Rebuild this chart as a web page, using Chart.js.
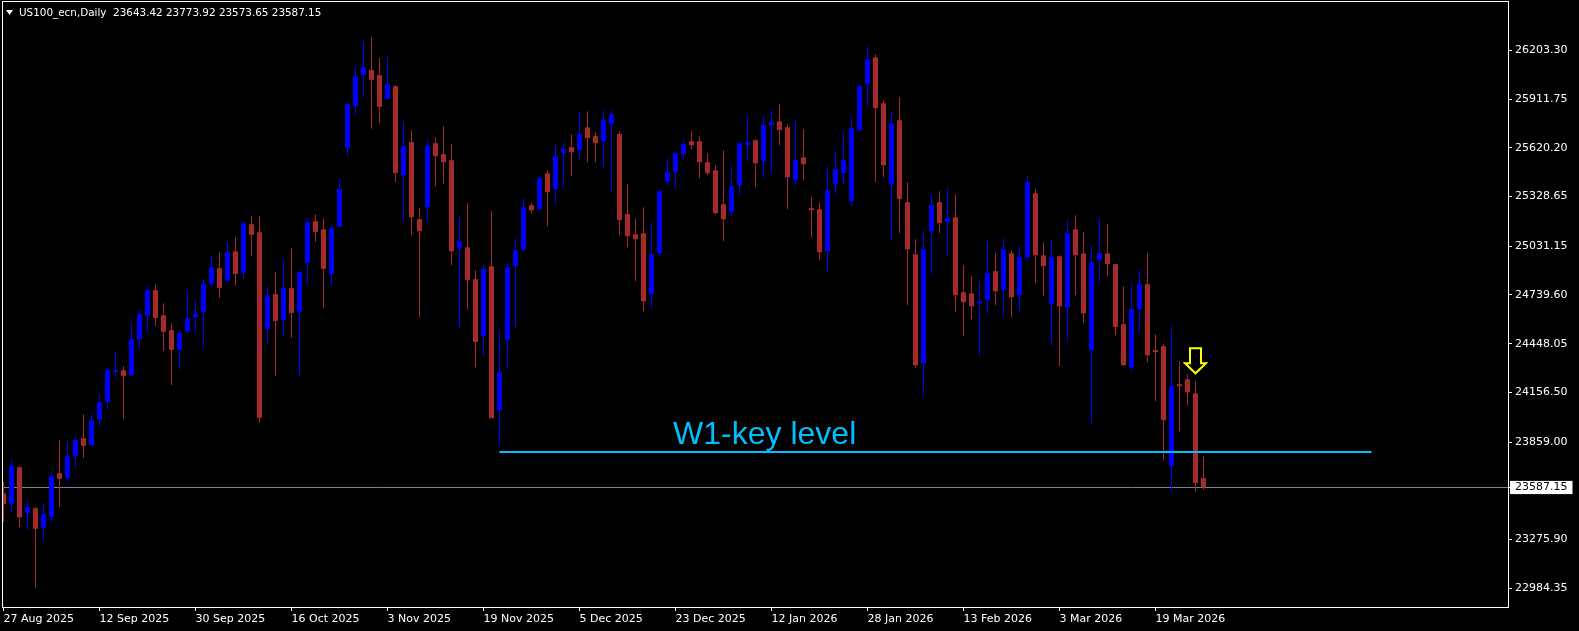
<!DOCTYPE html>
<html>
<head>
<meta charset="utf-8">
<title>US100_ecn,Daily</title>
<script src="https://cdn.jsdelivr.net/npm/chart.js@4/dist/chart.umd.min.js"></script>
<style>
  html, body { margin: 0; padding: 0; background: #000; }
  canvas { display: block; background: #000; }
</style>
</head>
<body>
<canvas id="chart" width="1579" height="631"></canvas>
<script>
// daily candles 27 Aug 2025 .. 27 Mar 2026
const open = [23553,23489,23709,23433,23463,23346,23411,23673,23645,23776,
  23882,23840,23996,24100,24279,24289,24259,24475,24614,24768,
  24618,24529,24411,24519,24606,24638,24806,24900,24824,25001,
  24872,25163,25115,24537,24744,24590,24780,24638,24932,25181,
  25133,24866,25147,25620,25871,26057,26085,26055,25913,25989,
  25456,25654,25193,25265,25648,25582,25546,25019,25025,24834,
  24493,24912,24050,24469,24912,25013,25277,25253,25468,25372,
  25588,25624,25606,25743,25690,25660,25761,25702,25223,25103,
  25109,24744,24989,25420,25474,25582,25660,25660,25534,25486,
  25283,25235,25396,25636,25666,25540,25756,25779,25744,25426,
  25564,25259,25253,25001,25402,25468,25301,25726,26001,26162,
  25887,25402,25785,25295,24983,24331,25121,25295,25175,25205,
  24756,24750,24690,24708,24882,24768,24989,24738,24965,25349,
  24977,24684,24971,24666,25133,24989,24409,24948,24989,24924,
  24565,24307,24654,24804,24409,24433,23717,24205,24235,24151,
  23643.42];

const high = [23621,23756,23715,23517,23470,23493,23679,23870,23864,23894,
  24026,24032,24146,24307,24397,24313,24576,24654,24798,24804,
  24690,24570,24529,24768,24708,24834,24978,24995,25061,25085,
  25181,25211,25211,24792,24876,24953,25019,24894,25205,25223,
  25199,25157,25432,25893,26109,26258,26282,26157,26163,25995,
  25779,25726,25259,25672,25684,25750,25642,25211,25289,24888,
  24924,25241,24529,24936,25079,25325,25289,25450,25486,25636,
  25654,25702,25839,25839,25714,25851,25845,25720,25402,25199,
  25265,25175,25366,25564,25600,25672,25720,25690,25588,25516,
  25606,25516,25654,25815,25672,25809,25851,25881,25761,25791,
  25731,25325,25295,25510,25600,25714,25803,26001,26228,26180,
  25905,25839,25923,25414,25073,25127,25343,25360,25384,25343,
  24918,24852,24822,25061,24989,25079,25007,25031,25450,25372,
  25055,25067,24977,25187,25217,25115,25031,25199,25163,24924,
  24792,24810,24894,24989,24505,24445,24552,24343,24265,24223,
  23773.92];

const low = [23381,23441,23351,23333,22986,23262,23375,23471,23621,23705,
  23764,23836,23950,24064,24249,23998,24253,24415,24517,24554,
  24405,24201,24295,24513,24513,24427,24788,24722,24818,24794,
  24836,24973,23974,24441,24255,24495,24483,24249,24806,25057,
  24662,24794,25147,25572,25817,25925,25734,25770,25907,25416,
  25175,25097,24606,25175,25390,25402,24918,24540,24654,24307,
  24373,24002,23834,24301,24540,25001,25229,25247,25151,25283,
  25384,25450,25546,25534,25534,25504,25360,25097,25025,24822,
  24642,24660,24971,25396,25378,25552,25612,25438,25456,25223,
  25061,25211,25336,25540,25384,25438,25462,25636,25253,25396,
  25426,25085,24947,24882,25343,25402,25271,25714,25875,25414,
  25444,25067,25109,24678,24301,24139,24864,25109,24971,24636,
  24493,24594,24373,24630,24678,24612,24606,24642,24941,24810,
  24732,24439,24313,24463,24738,24570,23972,24810,24852,24499,
  24319,24283,24511,24337,24104,23751,23561,23924,24080,23561,
  23573.65];

const close = [23489,23715,23409,23469,23340,23427,23655,23639,23774,23870,
  23836,23990,24098,24289,24289,24255,24475,24624,24768,24602,
  24519,24411,24511,24600,24630,24804,24906,24782,24995,24866,
  25169,25099,24004,24736,24584,24780,24632,24876,25175,25117,
  24896,25139,25373,25881,26049,26103,26027,25865,26001,25470,
  25630,25205,25121,25630,25570,25534,25001,25061,24828,24457,
  24894,24002,24277,24906,25007,25265,25247,25438,25355,25570,
  25612,25594,25702,25678,25648,25785,25821,25187,25091,25073,
  24702,24983,25360,25474,25588,25642,25636,25534,25468,25229,
  25193,25390,25648,25654,25528,25755,25773,25726,25444,25546,
  25522,25247,24995,25366,25492,25546,25738,25989,26150,25857,
  25516,25767,25313,25013,24319,25013,25277,25169,25199,24738,
  24696,24672,24702,24870,24762,25013,24726,24965,25414,24977,
  24912,24965,24672,25109,24977,24630,24936,24989,24924,24547,
  24319,24654,24804,24379,24397,23990,24193,24193,24157,23613,
  23587.15];

// bottom axis: a date label every 12 bars
const tickIdx = [0, 12, 24, 36, 48, 60, 72, 84, 96, 108, 120, 132, 144];
const tickLabels = ['27 Aug 2025', '12 Sep 2025', '30 Sep 2025', '16 Oct 2025', '3 Nov 2025',
  '19 Nov 2025', '5 Dec 2025', '23 Dec 2025', '12 Jan 2026', '28 Jan 2026',
  '13 Feb 2026', '3 Mar 2026', '19 Mar 2026'];

// right axis labels as printed by the terminal
const priceTicks = [26203.30, 25911.75, 25620.20, 25328.65, 25031.15, 24739.60,
  24448.05, 24156.50, 23859.00, 23587.15, 23275.90, 22984.35];

const symbol = 'US100_ecn,Daily';

// weekly key level drawn on the chart
const keyLevel = 23800;
const keyFrom = 62;
const keyTo = 171;
const keyText = 'W1-key level';
const keyTextAt = [83.7, 23847];
const arrowAt = [149, 24420];

const bull = '#0000ff';
const bear = '#a52a2a';
const keyColor = '#00bfff';

const n = close.length;
const last = close[n - 1];
const xMin = -0.1875, xMax = 188.0625;
const yMin = 22871.9, yMax = 26492.9;

const idx = close.map((_, i) => i);
const colors = idx.map(i => close[i] >= open[i] ? bull : bear);

const overlay = {
  id: 'overlay',
  afterDatasetsDraw(chart) {
    const {ctx, chartArea: a, scales: {x, y}} = chart;
    ctx.save();
    // frame around the plot
    ctx.strokeStyle = '#fff';
    ctx.lineWidth = 1;
    ctx.strokeRect(a.left + 0.5, a.top - 0.5, a.right - a.left, a.bottom - a.top + 1);

    // key level caption
    ctx.fillStyle = keyColor;
    ctx.font = '32px "Liberation Sans", Arial, sans-serif';
    ctx.textBaseline = 'alphabetic';
    ctx.textAlign = 'left';
    ctx.fillText(keyText, x.getPixelForValue(keyTextAt[0]), y.getPixelForValue(keyTextAt[1]));

    // hollow down arrow
    const ax = x.getPixelForValue(arrowAt[0]);
    const ay = y.getPixelForValue(arrowAt[1]);
    ctx.beginPath();
    ctx.moveTo(ax - 5.5, ay);
    ctx.lineTo(ax + 5.5, ay);
    ctx.lineTo(ax + 5.5, ay + 15);
    ctx.lineTo(ax + 10.5, ay + 15);
    ctx.lineTo(ax, ay + 25);
    ctx.lineTo(ax - 10.5, ay + 15);
    ctx.lineTo(ax - 5.5, ay + 15);
    ctx.closePath();
    ctx.strokeStyle = '#ffff00';
    ctx.lineWidth = 2;
    ctx.stroke();

    // symbol line, top left
    ctx.fillStyle = '#fff';
    ctx.beginPath();
    ctx.moveTo(6, 10);
    ctx.lineTo(13, 10);
    ctx.lineTo(9.5, 15);
    ctx.closePath();
    ctx.fill();
    ctx.font = '10.4px "DejaVu Sans", sans-serif';
    ctx.textBaseline = 'middle';
    const ohlc = [open[n - 1], high[n - 1], low[n - 1], close[n - 1]].map(v => v.toFixed(2)).join(' ');
    ctx.fillText(symbol + '  ' + ohlc, 19, 13);
    ctx.restore();
  }
};

Chart.defaults.font.family = '"DejaVu Sans", sans-serif';
Chart.defaults.font.size = 11;
Chart.defaults.color = '#fff';

const ctx = document.getElementById('chart').getContext('2d');
const chart = new Chart(ctx, {
  type: 'bar',
  data: {
    datasets: [
      {
        type: 'line',
        data: [{x: keyFrom, y: keyLevel}, {x: keyTo, y: keyLevel}],
        borderColor: keyColor,
        borderWidth: 2,
        pointRadius: 0
      },
      {
        data: idx.map(i => ({x: i, y: [open[i], close[i]]})),
        backgroundColor: colors,
        barThickness: 5,
        minBarLength: 1,
        grouped: false,
        inflateAmount: 0,
        borderWidth: 0,
        clip: 0
      },
      {
        data: idx.map(i => ({x: i, y: [low[i], high[i]]})),
        backgroundColor: colors,
        barThickness: 1,
        grouped: false,
        inflateAmount: 0,
        borderWidth: 0,
        clip: 0
      },
      {
        type: 'line',
        data: [{x: xMin, y: last}, {x: xMax, y: last}],
        borderColor: '#778899',
        borderWidth: 1,
        pointRadius: 0
      }
    ]
  },
  options: {
    responsive: false,
    animation: false,
    devicePixelRatio: 1,
    events: [],
    layout: {padding: {top: 2, left: 2, right: 0, bottom: 0}},
    plugins: {legend: {display: false}, tooltip: {enabled: false}},
    scales: {
      x: {
        type: 'linear',
        min: xMin,
        max: xMax,
        bounds: 'data',
        offset: false,
        grid: {offset: false, drawOnChartArea: false, drawTicks: true, tickLength: 4, color: '#fff'},
        border: {display: false},
        afterBuildTicks: s => { s.ticks = tickIdx.map(v => ({value: v})); },
        afterFit: s => { s.height = 24; s.paddingLeft = 0; s.paddingRight = 0; },
        ticks: {
          autoSkip: false,
          maxRotation: 0,
          align: 'start',
          padding: 2,
          color: '#fff',
          callback: v => tickLabels[tickIdx.indexOf(v)]
        }
      },
      y: {
        type: 'linear',
        position: 'right',
        min: yMin,
        max: yMax,
        bounds: 'data',
        beginAtZero: false,
        grid: {drawOnChartArea: false, drawTicks: true, tickLength: 4, color: '#fff'},
        border: {display: false},
        afterBuildTicks: s => { s.ticks = priceTicks.map(v => ({value: v})); },
        afterFit: s => { s.width = 71; s.paddingTop = 0; s.paddingBottom = 0; },
        ticks: {
          padding: 3,
          callback: v => v.toFixed(2),
          color: c => c.tick && c.tick.value === last ? '#000' : '#fff',
          showLabelBackdrop: true,
          backdropColor: c => c.tick && c.tick.value === last ? '#fff' : 'rgba(0,0,0,0)',
          backdropPadding: {top: 0, bottom: 0, left: 5, right: 5}
        }
      }
    }
  },
  plugins: [overlay]
});
</script>
</body>
</html>
